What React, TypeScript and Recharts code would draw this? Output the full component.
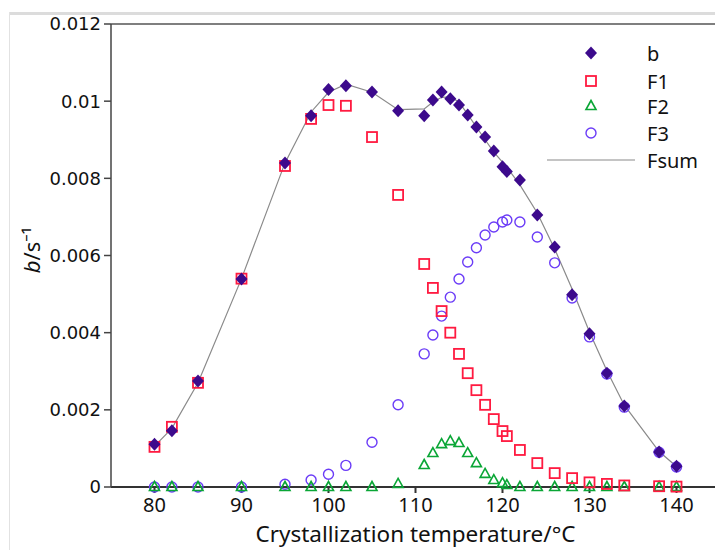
import {
  ComposedChart,
  Scatter,
  Line,
  XAxis,
  YAxis,
  Label,
  ReferenceLine,
} from "recharts";

const temps = [
  80, 82, 85, 90, 95, 98, 100, 102, 105, 108, 111, 112, 113, 114, 115, 116,
  117, 118, 119, 120, 120.5, 122, 124, 126, 128, 130, 132, 134, 138, 140,
];

const bVals = [
  0.00111, 0.00146, 0.00275, 0.00539, 0.0084, 0.00962, 0.0103, 0.0104,
  0.01024, 0.00975, 0.00962, 0.01003, 0.01024, 0.01006, 0.0099, 0.00964,
  0.00933, 0.00907, 0.00871, 0.0083, 0.00818, 0.00796, 0.00705, 0.00622,
  0.00498, 0.00397, 0.00295, 0.0021, 0.00091, 0.00054,
];

const f1Vals = [
  0.00104, 0.00156, 0.0027, 0.0054, 0.00832, 0.00954, 0.0099, 0.00988,
  0.00907, 0.00757, 0.00578, 0.00516, 0.00456, 0.004, 0.00345, 0.00295,
  0.00251, 0.00213, 0.00176, 0.00145, 0.00132, 0.00096, 0.00062, 0.00036,
  0.00023, 0.00012, 0.00008, 0.00004, 0.00002, 0.00001,
];

const f2Vals = [
  0, 0, 0, 0, 0, 0, 0, 0, 0, 0.00008, 0.00057, 0.00088, 0.00111, 0.00119,
  0.00114, 0.00088, 0.00062, 0.00034, 0.00018, 0.0001, 0.00005, 0, 0, 0, 0,
  0, 0, 0, 0, 0,
];

const f3Vals = [
  0, 0, 0, 0, 0.00007, 0.00018, 0.00033, 0.00056, 0.00116, 0.00213, 0.00345,
  0.00394, 0.00443, 0.00492, 0.00539, 0.00583, 0.0062, 0.00653, 0.00674,
  0.00687, 0.00692, 0.00687, 0.00648, 0.00581, 0.0049, 0.00389, 0.00293,
  0.00207, 0.0009, 0.00052,
];

const fsumVals = [
  0.00106, 0.00152, 0.0027, 0.0054, 0.0084, 0.00972, 0.01023, 0.01044,
  0.01023, 0.00978, 0.0098, 0.00998, 0.0101, 0.01011, 0.00998, 0.00966,
  0.00933, 0.009, 0.00868, 0.00842, 0.00829, 0.00783, 0.0071, 0.00617,
  0.00513, 0.00402, 0.00301, 0.00212, 0.00092, 0.00053,
];

const xTicks = [80, 90, 100, 110, 120, 130, 140];
const yTicks = [0, 0.002, 0.004, 0.006, 0.008, 0.01, 0.012];

const C_B = "#3c0a8c";
const C_F1 = "#ff1a40";
const C_F2 = "#0aa636";
const C_F3 = "#6b3cf7";
const C_SUM = "#8a8a8a";

const data = temps.map((t, i) => ({
  t,
  b: bVals[i],
  f1: f1Vals[i],
  f2: f2Vals[i],
  f3: f3Vals[i],
  fsum: fsumVals[i],
}));

const Diamond = ({ cx, cy }: any) => (
  <path
    d={`M${cx},${cy - 6.5}L${cx + 6},${cy}L${cx},${cy + 6.5}L${cx - 6},${cy}Z`}
    fill={C_B}
  />
);
const Square = ({ cx, cy }: any) => (
  <rect
    x={cx - 5}
    y={cy - 5}
    width={10}
    height={10}
    fill="none"
    stroke={C_F1}
    strokeWidth={1.8}
  />
);
const Triangle = ({ cx, cy }: any) => (
  <path
    d={`M${cx},${cy - 5.5}L${cx + 5},${cy + 3.5}L${cx - 5},${cy + 3.5}Z`}
    fill="none"
    stroke={C_F2}
    strokeWidth={1.6}
  />
);
const Circle = ({ cx, cy }: any) => (
  <circle cx={cx} cy={cy} r={5} fill="none" stroke={C_F3} strokeWidth={1.4} />
);

const legendRows = [
  { name: "b", shape: Diamond },
  { name: "F1", shape: Square },
  { name: "F2", shape: Triangle },
  { name: "F3", shape: Circle },
];
const rowY = [53, 81, 106, 133, 160];
const legendFont = { fontSize: 20, fontFamily: "Noto Sans", fill: "#111" };

// legend drawn as an overlay so it doesn't take space from the plot
const ChartLegend = () => (
  <svg
    width={715}
    height={200}
    style={{ position: "absolute", left: 0, top: 0, pointerEvents: "none" }}
  >
    {legendRows.map((r, i) => {
      const Shape = r.shape;
      return (
        <g key={r.name}>
          <Shape cx={591} cy={rowY[i]} />
          <text x={647} y={rowY[i]} dominantBaseline="central" {...legendFont}>
            {r.name}
          </text>
        </g>
      );
    })}
    <line x1={547} x2={635} y1={rowY[4]} y2={rowY[4]} stroke={C_SUM} strokeWidth={1.2} />
    <text x={647} y={rowY[4]} dominantBaseline="central" {...legendFont}>
      Fsum
    </text>
  </svg>
);

const YTitle = () => (
  <text
    transform="translate(31,250) rotate(-90)"
    textAnchor="middle"
    dominantBaseline="central"
    fontSize={22}
    fontFamily="Noto Sans"
    fill="#111"
  >
    <tspan fontStyle="italic">b</tspan>
    <tspan>/s⁻¹</tspan>
  </text>
);

export default function App() {
  return (
    <div
      style={{
        position: "absolute",
        left: 0,
        top: 0,
        width: 715,
        height: 550,
        overflow: "hidden",
        background: "#fff",
      }}
    >
      <div style={{ position: "absolute", left: 9, right: 0, top: 12, height: 3, background: "#dcdcdc" }} />
      <div style={{ position: "absolute", left: 9, top: 12, bottom: 0, width: 1, background: "#e2e2e2" }} />
      <ComposedChart
        width={720}
        height={550}
        data={data}
        margin={{ top: 24, right: 0, left: 0, bottom: 0 }}
      >
        <XAxis
          dataKey="t"
          type="number"
          domain={[75, 145]}
          ticks={xTicks}
          tickSize={6}
          tickMargin={5}
          stroke="#333"
          strokeWidth={2}
          tick={{ fill: "#111", fontSize: 20, fontFamily: "Noto Sans" }}
          height={63}
        >
          <Label
            value="Crystallization temperature/°C"
            position="insideBottom"
            offset={8}
            style={{ fill: "#111", fontSize: 22.5, fontFamily: "Noto Sans" }}
          />
        </XAxis>
        <YAxis
          type="number"
          domain={[0, 0.012]}
          ticks={yTicks}
          tickSize={7}
          tickMargin={3}
          width={111}
          stroke="#444"
          strokeWidth={1.5}
          tickFormatter={(v: number) => String(v)}
          tick={{ fill: "#111", fontSize: 18, fontFamily: "DejaVu Sans" }}
        >
          <Label content={<YTitle />} />
        </YAxis>
        <ReferenceLine y={0.012} stroke="#555" strokeWidth={1.5} />
        <Line
          dataKey="fsum"
          stroke={C_SUM}
          strokeWidth={1.2}
          dot={false}
          type="linear"
          isAnimationActive={false}
        />
        <Scatter dataKey="f3" shape={<Circle />} isAnimationActive={false} />
        <Scatter dataKey="f2" shape={<Triangle />} isAnimationActive={false} />
        <Scatter dataKey="f1" shape={<Square />} isAnimationActive={false} />
        <Scatter dataKey="b" shape={<Diamond />} isAnimationActive={false} />
      </ComposedChart>
      <ChartLegend />
    </div>
  );
}
